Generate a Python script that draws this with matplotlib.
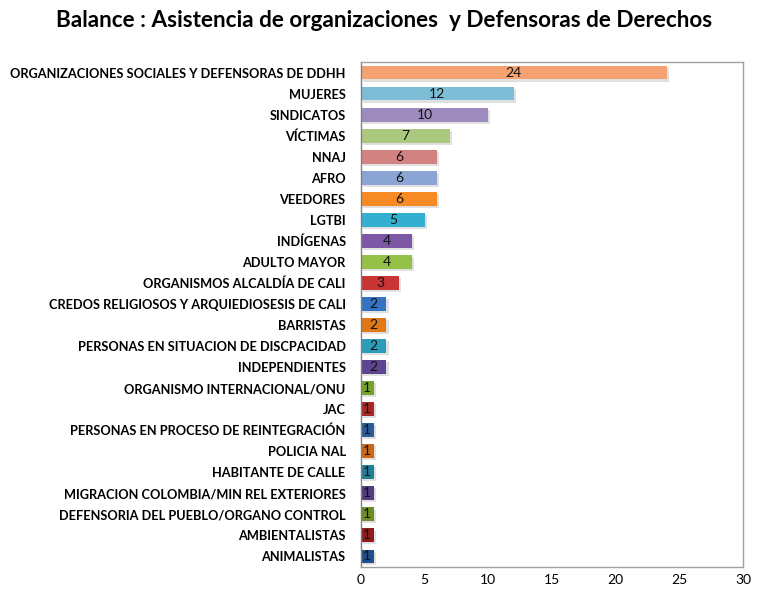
import matplotlib
matplotlib.use("Agg")
import matplotlib.pyplot as plt
import matplotlib.patheffects as pe

categorias = [
    "ORGANIZACIONES SOCIALES Y DEFENSORAS DE DDHH",
    "MUJERES",
    "SINDICATOS",
    "VÍCTIMAS",
    "NNAJ",
    "AFRO",
    "VEEDORES",
    "LGTBI",
    "INDÍGENAS",
    "ADULTO MAYOR",
    "ORGANISMOS ALCALDÍA DE CALI",
    "CREDOS RELIGIOSOS Y ARQUIEDIOSESIS DE CALI",
    "BARRISTAS",
    "PERSONAS EN SITUACION DE DISCPACIDAD",
    "INDEPENDIENTES",
    "ORGANISMO INTERNACIONAL/ONU",
    "JAC",
    "PERSONAS EN PROCESO DE REINTEGRACIÓN",
    "POLICIA NAL",
    "HABITANTE DE CALLE",
    "MIGRACION COLOMBIA/MIN REL EXTERIORES",
    "DEFENSORIA DEL PUEBLO/ORGANO CONTROL",
    "AMBIENTALISTAS",
    "ANIMALISTAS",
]
valores = [24, 12, 10, 7, 6, 6, 6, 5, 4, 4, 3, 2, 2, 2, 2, 1, 1, 1, 1, 1, 1, 1, 1, 1]

colores = [
    "#F4A272", "#7DBDD6", "#9E8BBE", "#ABC97E", "#D38282", "#8AA4D4",
    "#F68A24", "#34AFD0", "#7B57A6", "#95C047", "#C93535", "#3572C2",
    "#E07818", "#2C9CB8", "#5F4590", "#78A22E", "#A82828", "#2B5D9C",
    "#C8681A", "#217E96", "#553C80", "#6C8E23", "#8E1C1C", "#1F4F8A",
]

plt.rcParams['font.family'] = ['Lato', 'DejaVu Sans']

fig = plt.figure(figsize=(7.68, 6.06), dpi=100)
ax = fig.add_axes([0.470, 0.0644, 0.4974, 0.8333])

pos = list(range(len(categorias)))
bars = ax.barh(pos, valores, height=0.66, color=colores, edgecolor='none')
for b in bars:
    b.set_path_effects([pe.SimplePatchShadow(offset=(1.5, -1.5), shadow_rgbFace='#999999', alpha=0.3), pe.Normal()])

for p, v in zip(pos, valores):
    ax.text(v / 2, p, str(v), ha='center', va='center', fontsize=10, color='#111111')

ax.set_xlim(0, 30)
ax.set_ylim(len(categorias) - 0.5, -0.5)
ax.set_xticks([0, 5, 10, 15, 20, 25, 30])
ax.set_yticks(pos)
ax.set_yticklabels(categorias, fontweight='bold', fontsize=9.2)
ax.tick_params(axis='y', length=0, pad=11)
ax.tick_params(axis='x', length=0, pad=5, labelsize=10)
for s in ax.spines.values():
    s.set_color('#A0A0A0')
    s.set_linewidth(1)
ax.spines['left'].set_color('#808080')

fig.text(0.5, 0.966, "Balance : Asistencia de organizaciones  y Defensoras de Derechos",
         ha='center', va='center', fontsize=16.2, fontweight='bold')

fig.savefig("out.png", dpi=100)
